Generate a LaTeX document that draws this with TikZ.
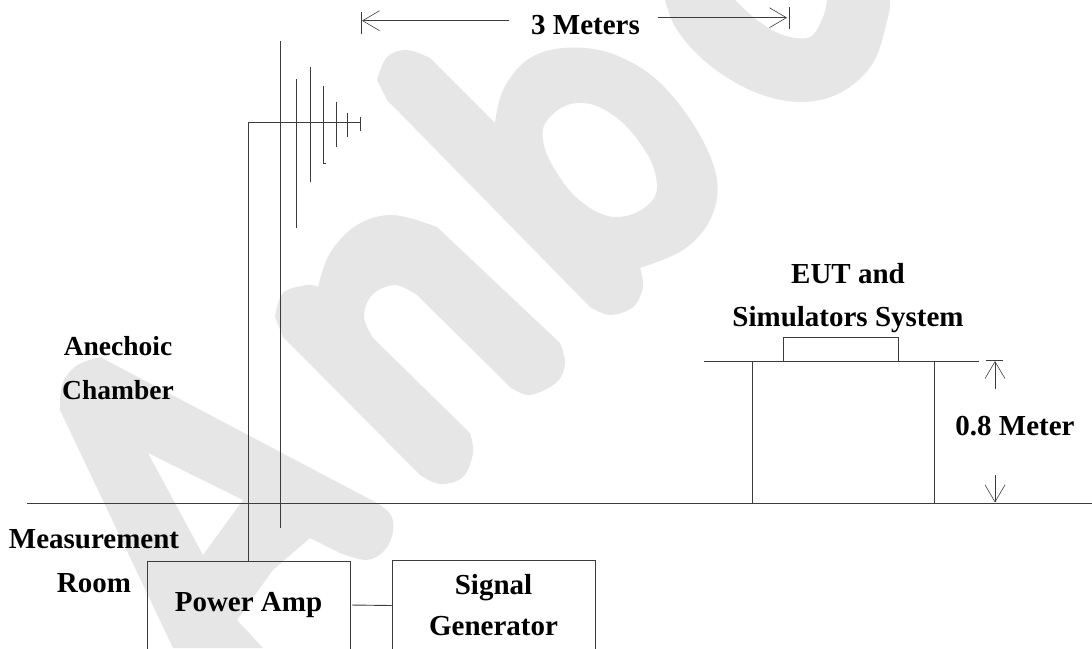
\documentclass[tikz,border=0pt]{standalone}
\usepackage{fontspec}
\setmainfont{Liberation Serif}
\usetikzlibrary{arrows.meta}
\definecolor{wmgray}{HTML}{E6E6E6}
\definecolor{linegray}{HTML}{3C3C3C}
\tikzset{
  wm/.style={fill=wmgray,draw=none,even odd rule},
  ln/.style={draw=linegray,line width=0.9pt},
  thin ln/.style={draw=linegray,line width=0.8pt},
  dim/.style={draw=linegray,line width=0.8pt,-{Straight Barb[length=17pt,width=20pt,line width=0.6pt]}},
  lbl/.style={font=\fontsize{29}{43.5}\selectfont\bfseries,align=center,inner sep=0pt,text=black},
  boxn/.style={ln,rectangle,inner sep=0pt,font=\fontsize{29}{41}\selectfont\bfseries,align=center,text=black},
}
\begin{document}
\begin{tikzpicture}[x=1pt,y=-1pt]
\useasboundingbox (0,0) rectangle (1092,648);
% watermark
\path[wm] plot[smooth,tension=.6] coordinates {(60,410)(62,385)(76,366)(100,357)} -- plot[smooth,tension=.6] coordinates {(377,503)(391,515)(393,532)(385,550)(367,560)(340,553)} -- (310,538) -- (273,570) -- (237,620) -- (263,648) -- (173,648) -- cycle
  (148,453) -- (243,500) -- (203,555) -- cycle;
\path[wm] plot[smooth,tension=.6] coordinates {(275,317)(283,293)(307,285)(318,287)} -- plot[smooth,tension=.6] coordinates {(318,287)(330,253)(357,225)(393,215)(437,227)} -- plot[smooth,tension=.6] coordinates {(560,343)(565,363)(557,382)(530,395)(510,387)} -- plot[smooth,tension=.6] coordinates {(417,295)(395,285)(372,295)(364,317)(373,338)} -- plot[smooth,tension=.6] coordinates {(470,433)(473,453)(463,477)(440,484)(420,475)} -- (283,337) -- cycle;
\path[wm] plot[smooth,tension=.6] coordinates {(377,80)(387,57)(407,50)(430,58)} -- (495,123) -- plot[smooth,tension=.6] coordinates {(495,123)(503,90)(527,60)(563,48)(610,53)(657,80)(697,130)(717,180)(710,220)(683,250)(640,268)} -- plot[smooth,tension=.6] coordinates {(640,268)(643,287)(633,307)(610,315)(590,307)} -- (387,100) -- cycle
  plot[smooth cycle,tension=.7] coordinates {(543,140)(550,117)(577,103)(610,113)(640,143)(656,177)(650,203)(617,217)(583,203)(557,173)};
\path[wm] plot[smooth,tension=.6] coordinates {(665,0)(677,30)(707,63)(750,90)(797,102)(840,93)(873,63)(888,17)(890,0)} -- (827,0) -- plot[smooth,tension=.6] coordinates {(827,0)(823,17)(810,37)(783,35)(757,20)(735,0)} -- cycle;
% boxes
\node[boxn,minimum width=203pt,minimum height=88pt] (pa) at (248.5,605) {Power Amp};
\node[boxn,minimum width=203pt,minimum height=91pt] (sg) at (493.5,605.5) {Signal\\Generator};
\node[ln,rectangle,minimum width=181.5pt,minimum height=142pt,inner sep=0pt] (stand) at (843.5,432) {};
\node[ln,rectangle,minimum width=115pt,minimum height=24pt,inner sep=0pt] (eut) at (840.5,349) {};
% floor and table
\coordinate (fl) at (27,503); \coordinate (fr) at (1092,503);
\draw[ln] (fl) -- (fr);
\coordinate (tl) at (704,361); \coordinate (tr) at (979,361);
\draw[ln] (tl) -- (tr);
% antenna
\coordinate (mast) at (248,122.5); \coordinate (tipa) at (360,122.5);
\draw[ln] (pa.north -| mast) -- (mast) -- (tipa);
\foreach \x/\a/\b/\n in {280/41/528/e1,296/79/228/e2,310/67/182/e3,336.5/102/147/e5,347.5/112.5/136.5/e6,360.5/117/131/e7}{
  \coordinate (\n a) at (\x,\a); \coordinate (\n b) at (\x,\b);
  \draw[ln] (\n a) -- (\n b);
}
\coordinate (e4a) at (323.5,86); \coordinate (e4b) at (323.5,163); \coordinate (e4c) at (326,163);
\draw[ln] (e4a) -- (e4b) -- (e4c);
% link
\draw[ln,shorten <=1.5pt] (pa.east) -- (sg.west);
% 3 meters
\coordinate (da) at (509,20.7); \coordinate (db) at (362,20.7);
\coordinate (dt1) at (361.5,12); \coordinate (dt2) at (361.5,33.5);
\draw[dim] (da) -- (db); \draw[thin ln] (dt1) -- (dt2);
\coordinate (dc) at (658,17.7); \coordinate (dd) at (787,17.7);
\coordinate (dt3) at (789,7); \coordinate (dt4) at (789,28.5);
\draw[dim] (dc) -- (dd); \draw[thin ln] (dt3) -- (dt4);
% 0.8 meter
\coordinate (va) at (995,389); \coordinate (vb) at (995,361);
\coordinate (vt1) at (986,360.5); \coordinate (vt2) at (1003,360.5);
\draw[dim] (va) -- (vb); \draw[thin ln] (vt1) -- (vt2);
\coordinate (vc) at (995,475); \coordinate (vd) at (995,502.5);
\draw[dim] (vc) -- (vd);
% labels
\node[lbl,anchor=base] (l3) at (585.5,34) {3 Meters};
\node[lbl,font=\fontsize{27.5}{43.5}\selectfont\bfseries] (lan) at (118,368) {Anechoic\\Chamber};
\node[lbl] (lme) at (94,561) {Measurement\\Room};
\node[lbl] (leu) at (848,298) {EUT and\\Simulators System};
\node[lbl,anchor=base] (l08) at (1015,435) {0.8 Meter};
\end{tikzpicture}
\end{document}
